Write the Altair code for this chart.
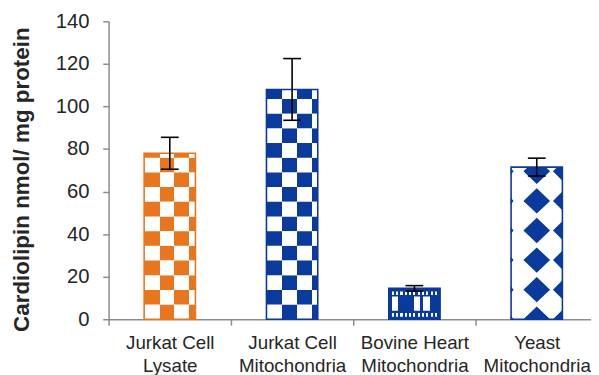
import altair as alt
import pandas as pd

# ---- data ----
categories = ["Jurkat Cell\nLysate", "Jurkat Cell\nMitochondria",
              "Bovine Heart\nMitochondria", "Yeast\nMitochondria"]
values = [78.0, 108.0, 14.5, 71.5]
errors = [7.5, 14.5, 1.3, 4.2]
y_ticks = [0, 20, 40, 60, 80, 100, 120, 140]
y_title = "Cardiolipin nmol/ mg protein"

# ---- styling ----
ORANGE = "#E8761E"
BLUE = "#0A3A9C"
WHITE = "#FFFFFF"
FONT = "Liberation Sans"
AXIS_GREY = "#8C8C8C"
TEXT = "#262626"
BAR_W = 52
ROW_H = 6.9          # checker cell height (data units)
DIAMOND_STEP = 13.9  # diamond row spacing (data units)

stroke_colors = [ORANGE, BLUE, BLUE, BLUE]

bars = pd.DataFrame({
    "cat": categories,
    "v": values,
    "lo": [v - e for v, e in zip(values, errors)],
    "hi": [v + e for v, e in zip(values, errors)],
})

x_axis = alt.Axis(labelExpr="split(datum.label, '\\n')", labelAngle=0,
                  tickBand="extent", title=None)
y_axis = alt.Axis(values=y_ticks, title=y_title)


def X():
    return alt.X("cat:N", sort=categories, title=None,
                 scale=alt.Scale(domain=categories, range=[0, 496],
                                 paddingInner=0, paddingOuter=0),
                 axis=x_axis)


def Y(field):
    return alt.Y(f"{field}:Q", title=y_title,
                 scale=alt.Scale(domain=[0, 140]), axis=y_axis)


def stripes(cuts, colors):
    stops = []
    for i, c in enumerate(colors):
        stops.append({"offset": cuts[i], "color": c})
        stops.append({"offset": cuts[i + 1], "color": c})
    return {"gradient": "linear", "x1": 0, "y1": 0, "x2": 1, "y2": 0,
            "stops": stops}


def dots(n, c):
    cuts, cols = [0.0], []
    for i in range(n):
        cuts += [(i + 0.25) / n, (i + 0.75) / n]
        cols += [c, WHITE]
    cuts.append(1.0)
    cols.append(c)
    return stripes(cuts, cols)


# ---- checkerboard rows for the two Jurkat bars ----
rows = []
for cat, v, col in zip(categories[:2], values[:2], ["o", "b"]):
    r = 0
    while r * ROW_H < v - 1e-9:
        rows.append({"cat": cat, "y0": r * ROW_H,
                     "y1": min((r + 1) * ROW_H, v), "phase": r % 2, "col": col})
        r += 1
rows = pd.DataFrame(rows)

CUTS = [0, 0.3, 0.59, 0.88, 1.0]
layers = []
for col, c in [("o", ORANGE), ("b", BLUE)]:
    for phase in (0, 1):
        cols = [c, WHITE, c, WHITE] if phase == 1 else [WHITE, c, WHITE, c]
        sub = rows[(rows.col == col) & (rows.phase == phase)]
        layers.append(
            alt.Chart(sub).mark_bar(size=BAR_W, fill=stripes(CUTS, cols),
                                    strokeWidth=0)
            .encode(x=X(), y=Y("y0"), y2="y1"))

# ---- bovine heart bar pattern ----
bv = values[2]
bov_main = pd.DataFrame({"cat": [categories[2]], "y0": [0.0], "y1": [bv]})
layers.append(
    alt.Chart(bov_main).mark_bar(
        size=BAR_W,
        fill=stripes([0, 0.06, 0.18, 0.49, 0.61, 0.67, 0.80, 1.0],
                     [BLUE, WHITE, BLUE, WHITE, BLUE, WHITE, BLUE]),
        strokeWidth=0)
    .encode(x=X(), y=Y("y0"), y2="y1"))
bov_bands = pd.DataFrame({"cat": [categories[2]] * 2,
                          "y0": [0.0, bv - 3.8], "y1": [4.0, bv]})
layers.append(
    alt.Chart(bov_bands).mark_bar(size=BAR_W, fill=BLUE, strokeWidth=0)
    .encode(x=X(), y=Y("y0"), y2="y1"))
bov_dots = pd.DataFrame({"cat": [categories[2]] * 2,
                         "y0": [1.2, bv - 3.1], "y1": [2.9, bv - 1.5]})
layers.append(
    alt.Chart(bov_dots).mark_bar(size=BAR_W - 4, fill=dots(11, BLUE),
                                 strokeWidth=0)
    .encode(x=X(), y=Y("y0"), y2="y1"))

# ---- yeast diamonds ----
yv = values[3]
n_full = int(yv // DIAMOND_STEP)
dia_full = pd.DataFrame({"cat": [categories[3]] * n_full,
                         "y": [k * DIAMOND_STEP for k in range(n_full)]})
dia_top = pd.DataFrame({"cat": [categories[3]], "y": [n_full * DIAMOND_STEP]})
FULL_PATH = ("M0,-0.95L1,0L0,0.95L-1,0Z "
             "M1.96,-0.74L1.22,0L1.96,0.74Z "
             "M-1.96,-0.26L-1.74,0L-1.96,0.26Z")
TOP_PATH = ("M-0.66,-0.32L0.66,-0.32L1,0L0,0.95L-1,0Z "
            "M1.96,-0.32L1.54,-0.32L1.22,0L1.96,0.74Z "
            "M-1.96,-0.26L-1.74,0L-1.96,0.26Z")
layers.append(
    alt.Chart(dia_full).mark_point(shape=FULL_PATH, size=729, filled=True,
                                   fill=BLUE, opacity=1, strokeWidth=0,
                                   clip=True)
    .encode(x=X(), y=Y("y")))
layers.append(
    alt.Chart(dia_top).mark_point(shape=TOP_PATH, size=729, filled=True,
                                  fill=BLUE, opacity=1, strokeWidth=0)
    .encode(x=X(), y=Y("y")))

# ---- bar outlines ----
layers.append(
    alt.Chart(bars).mark_bar(size=BAR_W, fill="transparent", strokeWidth=1.6)
    .encode(x=X(), y=Y("v"),
            stroke=alt.Stroke("cat:N", scale=alt.Scale(domain=categories,
                                                       range=stroke_colors),
                              legend=None)))

# ---- error bars ----
layers.append(
    alt.Chart(bars).mark_rule(color="black", strokeWidth=1.6)
    .encode(x=X(), y=Y("lo"), y2="hi"))
for f in ("lo", "hi"):
    layers.append(
        alt.Chart(bars).mark_tick(color="black", size=18, thickness=1.6,
                                  opacity=1)
        .encode(x=X(), y=Y(f)))

chart = alt.layer(*layers).properties(
    width=481, height=302,
    autosize=alt.AutoSizeParams(type="none"),
    padding={"left": 102, "top": 11, "right": 8, "bottom": 54},
).configure_view(stroke=None).configure_axis(
    domainColor=AXIS_GREY, tickColor=AXIS_GREY, domainWidth=1.5,
    tickWidth=1.5, tickSize=6, grid=False, labelFont=FONT, titleFont=FONT,
    labelColor=TEXT, titleColor=TEXT,
).configure_axisX(
    labelFontSize=19, labelLineHeight=22.5, labelPadding=9,
).configure_axisY(
    labelFontSize=20.5, labelPadding=14, titleFontSize=22.7,
    titleFontWeight="bold",
    titleAngle=270, titleX=-76, titleY=160, titleBaseline="bottom",
    titleAlign="center",
)

chart.save("out.html", embed_options={"renderer": "svg", "actions": False})
